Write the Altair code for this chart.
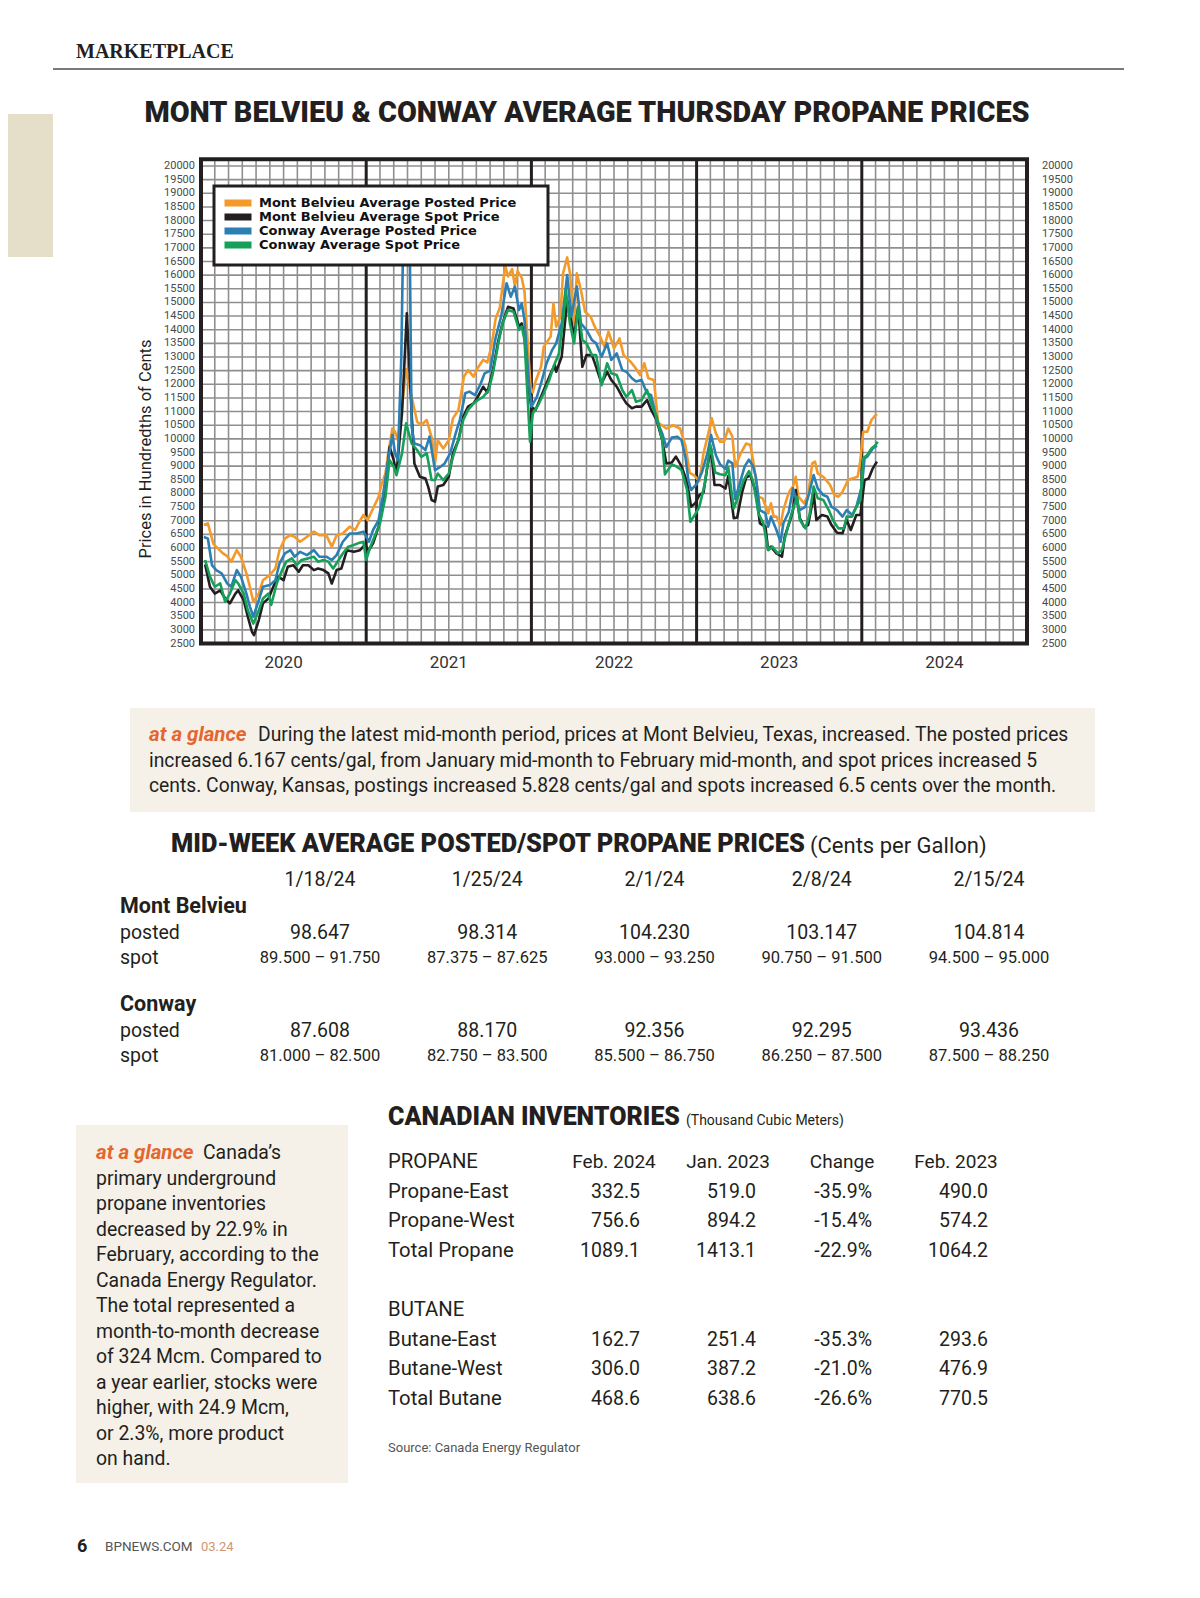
import altair as alt
import pandas as pd

# ---------------- line chart data: (months after 1 Jan 2020, price in hundredths of cents) ----------------
mb_posted = [(0.2, 6850), (0.5, 6900), (0.9, 6150), (1.3, 5950), (1.6, 5800), (1.9, 5700), (2.2, 5500), (2.6, 5920), (2.9, 5680), (3.3, 5070),
             (3.55, 4580), (3.8, 4030), (4.2, 4330), (4.5, 4820), (5.0, 5010), (5.4, 5250), (5.7, 5920), (6.1, 6350), (6.5, 6470), (6.8, 6410),
             (7.2, 6230), (7.7, 6410), (8.2, 6600), (8.6, 6470), (9.1, 6470), (9.5, 6050), (9.85, 6470), (10.3, 6530), (10.8, 6780), (11.2, 6660),
             (11.5, 6960), (11.8, 7210), (12.1, 7020), (12.5, 7450), (12.9, 7880), (13.1, 8300), (13.4, 8730), (13.6, 9470), (13.9, 10380), (14.1, 10260),
             (14.3, 9950), (14.6, 11180), (14.9, 12550), (15.3, 11540), (15.7, 10630), (16.0, 10510), (16.4, 10690), (16.8, 9960), (17.0, 9100), (17.2, 9950),
             (17.6, 9650), (18.0, 9950), (18.3, 10750), (18.7, 11060), (19.1, 12280), (19.4, 12520), (19.8, 12280), (20.1, 12600), (20.5, 12900), (20.8, 12800),
             (21.1, 13400), (21.4, 14400), (21.7, 14800), (22.1, 16350), (22.3, 15950), (22.6, 16220), (22.8, 15600), (23.0, 16150), (23.3, 15900), (23.5, 15400),
             (23.8, 13000), (23.95, 11800), (24.1, 11700), (24.3, 12100), (24.7, 12640), (24.9, 13380), (25.4, 13750), (25.6, 14970), (25.8, 14110), (26.1, 14480),
             (26.3, 16070), (26.6, 16650), (26.8, 16070), (27.1, 14230), (27.3, 16070), (27.6, 15450), (27.9, 14660), (28.3, 14480), (28.6, 14110), (29.0, 13750),
             (29.3, 13380), (29.6, 13930), (30.0, 13320), (30.4, 13680), (30.7, 13070), (31.2, 12830), (31.5, 12640), (31.9, 12340), (32.2, 12770), (32.5, 12220),
             (32.9, 12160), (33.2, 10600), (33.8, 10380), (34.3, 10500), (34.8, 10380), (35.2, 9720), (35.5, 8750), (35.8, 8670), (36.2, 8450), (36.5, 9470),
             (36.8, 10080), (37.1, 10750), (37.4, 10200), (37.7, 9900), (38.0, 9900), (38.3, 10380), (38.6, 10080), (38.8, 8980), (39.2, 9470), (39.6, 9830),
             (39.9, 9775), (40.1, 9225), (40.5, 7880), (40.8, 7820), (41.2, 7270), (41.4, 7640), (41.6, 7150), (41.8, 7150), (42.1, 6840), (42.3, 7390),
             (42.6, 7880), (42.8, 8125), (43.0, 8250), (43.2, 8610), (43.4, 7880), (43.8, 7640), (44.1, 7940), (44.4, 9100), (44.6, 9165), (44.8, 8735),
             (45.2, 8610), (45.5, 8430), (45.7, 8310), (46.0, 7940), (46.3, 7880), (46.6, 8060), (47.0, 8490), (47.3, 8550), (47.7, 8610), (47.9, 9225),
             (48.1, 10260), (48.4, 10260), (48.7, 10690), (48.9, 10810), (49.1, 10910)]

mb_spot = [(0.3, 5400), (0.65, 4580), (1.0, 4330), (1.4, 4450), (1.75, 4150), (2.1, 3970), (2.5, 4330), (2.7, 4450), (3.1, 4090), (3.4, 3480),
           (3.7, 2930), (3.85, 2810), (4.2, 3360), (4.5, 3970), (4.9, 4150), (5.25, 4580), (5.6, 4950), (6.0, 4820), (6.3, 5310), (6.7, 5370),
           (7.1, 5130), (7.4, 5370), (7.8, 5370), (8.2, 5190), (8.5, 5250), (8.9, 5190), (9.25, 5070), (9.5, 4700), (9.85, 5190), (10.2, 5250),
           (10.6, 5920), (11.1, 5860), (11.55, 5920), (11.9, 6110), (12.2, 5920), (12.5, 6170), (12.9, 6780), (13.2, 7630), (13.5, 8730), (13.7, 9710),
           (14.0, 9220), (14.2, 8730), (14.6, 10930), (14.95, 14600), (15.3, 10930), (15.5, 9100), (15.9, 8610), (16.3, 8550), (16.5, 8250), (16.75, 7760),
           (17.0, 7700), (17.2, 8250), (17.6, 8310), (18.0, 8610), (18.3, 9470), (18.7, 9960), (19.05, 10810), (19.4, 11180), (19.8, 11300), (20.1, 11540),
           (20.5, 11910), (20.8, 11700), (21.2, 12500), (21.6, 13600), (21.9, 14230), (22.3, 14840), (22.7, 14780), (23.1, 14110), (23.3, 14230), (23.5, 13750),
           (23.8, 11790), (24.0, 11180), (24.3, 11060), (24.6, 11420), (25.0, 11910), (25.4, 12400), (25.7, 12700), (25.8, 12460), (26.2, 13010), (26.6, 15090),
           (27.1, 13750), (27.4, 14840), (27.7, 12640), (28.0, 13070), (28.4, 13070), (28.7, 12640), (29.1, 12030), (29.5, 12460), (29.8, 12160), (30.2, 11910),
           (30.6, 11540), (30.9, 11300), (31.3, 11120), (31.6, 11180), (32.0, 11180), (32.4, 11420), (32.7, 11060), (33.1, 10690), (33.5, 9960), (33.8, 9100),
           (34.2, 9130), (34.5, 9350), (34.9, 9000), (35.3, 8430), (35.6, 7510), (35.9, 7640), (36.2, 7940), (36.5, 8030), (36.8, 9040), (37.05, 9650),
           (37.3, 8310), (37.7, 8310), (38.1, 8180), (38.3, 8640), (38.7, 7090), (38.95, 7120), (39.3, 8030), (39.6, 8580), (39.9, 8670), (40.3, 8060),
           (40.6, 6900), (41.0, 6780), (41.2, 5925), (41.4, 6050), (41.8, 5800), (42.2, 5680), (42.4, 6415), (42.8, 7025), (43.0, 7390), (43.2, 8125),
           (43.5, 7090), (43.8, 6780), (44.1, 6840), (44.4, 7640), (44.5, 8060), (44.7, 7025), (45.1, 7210), (45.5, 7150), (45.8, 6840), (46.2, 6560),
           (46.6, 6540), (46.9, 7025), (47.2, 6660), (47.6, 7210), (47.9, 7210), (48.2, 8490), (48.5, 8550), (48.8, 8920), (49.1, 9165)]

cw_posted = [(0.2, 6400), (0.5, 6350), (0.8, 5370), (1.1, 5190), (1.5, 5070), (1.9, 4700), (2.2, 4580), (2.6, 5190), (2.9, 4950), (3.3, 4330),
             (3.55, 3850), (3.8, 3480), (4.2, 4090), (4.5, 4580), (5.0, 4640), (5.4, 4820), (5.7, 5430), (6.1, 5800), (6.5, 5920), (6.8, 5680),
             (7.2, 5860), (7.7, 5740), (8.2, 5920), (8.6, 5680), (9.1, 5680), (9.5, 5560), (9.85, 5740), (10.3, 6230), (10.8, 6530), (11.3, 6530),
             (11.8, 6600), (12.2, 6230), (12.5, 6660), (12.9, 7020), (13.2, 7880), (13.6, 9220), (13.9, 10140), (14.1, 9470), (14.3, 9220), (14.55, 13000),
             (14.7, 17800), (15.15, 17800), (15.3, 10440), (15.5, 9830), (15.9, 9770), (16.3, 9590), (16.6, 10080), (17.0, 8850), (17.4, 8980), (17.7, 9100),
             (18.1, 9470), (18.5, 10200), (18.8, 10690), (19.2, 11670), (19.5, 11730), (19.9, 11600), (20.3, 12000), (20.6, 12400), (21.0, 12500), (21.4, 13700),
             (21.8, 14480), (22.2, 15700), (22.5, 15210), (22.8, 15580), (23.1, 14720), (23.3, 14970), (23.5, 14350), (23.8, 12160), (24.0, 11180), (24.4, 11540),
             (24.7, 12030), (25.1, 12770), (25.5, 13250), (25.8, 13500), (26.2, 14230), (26.6, 16000), (26.9, 14480), (27.3, 15580), (27.6, 14230), (28.0, 13990),
             (28.4, 13620), (28.7, 13500), (29.1, 13010), (29.5, 13500), (29.8, 12890), (30.2, 13130), (30.6, 12520), (30.9, 12460), (31.3, 12220), (31.6, 12100),
             (32.0, 12160), (32.4, 11670), (32.7, 11600), (33.1, 10690), (33.5, 10200), (33.8, 9700), (34.2, 10050), (34.6, 10080), (34.9, 9960), (35.2, 9300),
             (35.4, 8490), (35.6, 8125), (36.0, 8340), (36.4, 8790), (36.8, 9500), (37.05, 10140), (37.4, 9400), (37.7, 9070), (38.1, 8900), (38.3, 9200),
             (38.6, 9100), (38.8, 7800), (39.1, 8300), (39.5, 9000), (39.8, 9235), (40.1, 9000), (40.3, 8610), (40.6, 7390), (41.0, 7270), (41.2, 6780),
             (41.4, 7150), (41.8, 6660), (42.1, 6230), (42.3, 6900), (42.7, 7330), (43.0, 8185), (43.3, 7640), (43.5, 7390), (43.9, 7510), (44.2, 8060),
             (44.5, 8675), (44.8, 8185), (45.2, 7940), (45.5, 7880), (45.8, 7510), (46.2, 7390), (46.6, 7150), (46.9, 7390), (47.3, 7210), (47.6, 7510),
             (48.0, 8250), (48.2, 9285), (48.4, 9350), (48.8, 9650), (49.1, 9750)]

cw_spot = [(0.3, 5560), (0.65, 4950), (1.0, 4580), (1.4, 4700), (1.75, 4030), (2.1, 4330), (2.5, 4820), (2.7, 4700), (3.1, 4330), (3.4, 3720),
           (3.8, 3230), (4.2, 3720), (4.5, 4150), (4.9, 4330), (5.1, 3910), (5.5, 4700), (5.9, 5190), (6.2, 5500), (6.6, 5620), (6.95, 5370),
           (7.3, 5560), (7.8, 5620), (8.2, 5680), (8.5, 5500), (8.9, 5560), (9.25, 5500), (9.6, 5250), (10.0, 5560), (10.3, 5800), (10.7, 6050),
           (11.1, 6110), (11.4, 6170), (11.8, 6230), (12.0, 5560), (12.3, 6050), (12.6, 6410), (13.0, 6900), (13.4, 7880), (13.7, 9220), (14.0, 8980),
           (14.2, 8670), (14.6, 9470), (14.9, 10570), (15.3, 9830), (15.7, 9590), (16.0, 9340), (16.4, 9470), (16.75, 8490), (17.0, 8490), (17.2, 8730),
           (17.6, 8490), (18.0, 8730), (18.3, 9340), (18.7, 9960), (19.05, 10690), (19.4, 11060), (19.8, 11300), (20.1, 11420), (20.5, 11540), (20.9, 11790),
           (21.2, 12400), (21.6, 13500), (21.9, 14230), (22.3, 14720), (22.7, 14660), (23.1, 13990), (23.3, 14110), (23.5, 13620), (23.9, 9900), (24.1, 10930),
           (24.5, 11240), (24.9, 11670), (25.3, 12160), (25.6, 12640), (26.0, 13130), (26.3, 14350), (26.5, 15450), (26.8, 14230), (27.1, 13500), (27.4, 14840),
           (27.7, 13620), (28.0, 13500), (28.4, 13070), (28.7, 13070), (29.1, 11970), (29.5, 12770), (29.8, 12400), (30.2, 12340), (30.6, 11790), (30.9, 11540),
           (31.3, 11790), (31.6, 11360), (32.0, 11420), (32.4, 11790), (32.7, 11300), (33.1, 10810), (33.5, 9960), (33.7, 8700), (34.2, 9060), (34.5, 9000),
           (34.9, 8860), (35.3, 8150), (35.55, 6960), (35.9, 7240), (36.2, 7510), (36.6, 8370), (37.0, 9770), (37.35, 8770), (37.7, 8700), (38.1, 8670),
           (38.3, 8950), (38.7, 7450), (39.05, 7940), (39.4, 8460), (39.8, 8820), (40.1, 8460), (40.5, 7260), (40.85, 6900), (41.2, 5925), (41.5, 6050),
           (41.9, 5800), (42.2, 5925), (42.6, 6720), (42.9, 7270), (43.3, 7880), (43.5, 7025), (43.9, 6720), (44.2, 7210), (44.5, 8250), (44.8, 7820),
           (45.2, 7760), (45.6, 7390), (45.9, 7025), (46.3, 6720), (46.7, 6720), (46.9, 7150), (47.3, 7150), (47.6, 7510), (47.9, 7760), (48.1, 9285),
           (48.4, 9410), (48.7, 9650), (49.0, 9770), (49.15, 9900)]

series_names = ["Mont Belvieu Average Posted Price", "Mont Belvieu Average Spot Price",
                "Conway Average Posted Price", "Conway Average Spot Price"]
series_colors = ["#f39a2b", "#231f20", "#2b7fb3", "#16a05a"]

y_tick_values = list(range(2500, 20001, 500))
year_labels = ["2020", "2021", "2022", "2023", "2024"]
year_label_months = [6, 18, 30, 42, 54]
year_boundaries = [12, 24, 36, 48]
month_grid = [m for m in range(1, 60) if m % 12]

# ---------------- page text ----------------
section_label = "MARKETPLACE"
chart_title = "MONT BELVIEU & CONWAY AVERAGE THURSDAY PROPANE PRICES"
y_title = "Prices in Hundredths of Cents"
glance_tag = "at a glance"
glance1_first = "During the latest mid-month period, prices at Mont Belvieu, Texas, increased. The posted prices"
glance1_rest = ["increased 6.167 cents/gal, from January mid-month to February mid-month, and spot prices increased 5",
                "cents. Conway, Kansas, postings increased 5.828 cents/gal and spots increased 6.5 cents over the month."]

midweek_title = "MID-WEEK AVERAGE POSTED/SPOT PROPANE PRICES"
midweek_unit = "(Cents per Gallon)"
midweek_dates = ["1/18/24", "1/25/24", "2/1/24", "2/8/24", "2/15/24"]
mb_posted_week = ["98.647", "98.314", "104.230", "103.147", "104.814"]
mb_spot_week = ["89.500 – 91.750", "87.375 – 87.625", "93.000 – 93.250", "90.750 – 91.500", "94.500 – 95.000"]
cw_posted_week = ["87.608", "88.170", "92.356", "92.295", "93.436"]
cw_spot_week = ["81.000 – 82.500", "82.750 – 83.500", "85.500 – 86.750", "86.250 – 87.500", "87.500 – 88.250"]

inv_title = "CANADIAN INVENTORIES"
inv_unit = "(Thousand Cubic Meters)"
inv_cols = ["Feb. 2024", "Jan. 2023", "Change", "Feb. 2023"]
propane_rows = ["Propane-East", "Propane-West", "Total Propane"]
propane_vals = [["332.5", "519.0", "-35.9%", "490.0"],
                ["756.6", "894.2", "-15.4%", "574.2"],
                ["1089.1", "1413.1", "-22.9%", "1064.2"]]
butane_rows = ["Butane-East", "Butane-West", "Total Butane"]
butane_vals = [["162.7", "251.4", "-35.3%", "293.6"],
               ["306.0", "387.2", "-21.0%", "476.9"],
               ["468.6", "638.6", "-26.6%", "770.5"]]
inv_source = "Source: Canada Energy Regulator"

glance2_first = "Canada’s"
glance2_rest = ["primary underground", "propane inventories", "decreased by 22.9% in",
                "February, according to the", "Canada Energy Regulator.", "The total represented a",
                "month-to-month decrease", "of 324 Mcm. Compared to", "a year earlier, stocks were",
                "higher, with 24.9 Mcm,", "or 2.3%, more product", "on hand."]

footer_page = "6"
footer_site = "BPNEWS.COM"
footer_issue = "03.24"

# ---------------- styling / layout ----------------
W, H = 1184, 1582
OFF = 8
INK = "#231f20"
GRID = "#8f8f8f"
ORANGE = "#e4662f"
PANEL = "#f5f1e9"
BODY = "Roboto"
HEAD = "Roboto"
ONE = pd.DataFrame({"k": [0]})


def P(v):
    return v - OFF


def label(text, x, y, size, font=BODY, color=INK, weight="normal", style="normal",
          align="left", baseline="middle", angle=0):
    kw = dict(align=align, baseline=baseline, font=font, fontSize=size,
              fontWeight=weight, fontStyle=style, color=color)
    if angle:
        kw["angle"] = angle
    return alt.Chart(ONE).mark_text(**kw).encode(
        x=alt.value(P(x)), y=alt.value(P(y)), text=alt.value(text))


def text_block(lines, x, y0, step, size, font=BODY, color=INK):
    df = pd.DataFrame({"i": list(range(len(lines))), "t": lines})
    n = max(len(lines) - 1, 1)
    ys = alt.Scale(domain=[0, n], range=[P(y0), P(y0 + step * n)], nice=False, zero=False)
    return alt.Chart(df).mark_text(align="left", baseline="middle", font=font,
                                   fontSize=size, color=color).encode(
        x=alt.value(P(x)), y=alt.Y("i:Q", scale=ys, axis=None), text="t:N")


def box(x0, y0, x1, y1, fill, stroke=None, sw=0):
    kw = dict(fill=fill)
    if stroke:
        kw.update(stroke=stroke, strokeWidth=sw)
    return alt.Chart(ONE).mark_rect(**kw).encode(
        x=alt.value(P(x0)), x2=alt.value(P(x1)), y=alt.value(P(y0)), y2=alt.value(P(y1)))


layers = []

# header
layers.append(box(8, 114, 53, 257, "#e5dfca"))
layers.append(label(section_label, 76, 52, 20, font="Liberation Serif", weight="bold"))
layers.append(alt.Chart(ONE).mark_rule(color="#4d4d4d", strokeWidth=1.5).encode(
    x=alt.value(P(53)), x2=alt.value(P(1124)), y=alt.value(P(69))))
layers.append(label(chart_title, 587, 113, 28.8, font=HEAD, weight=900, align="center"))

# ---------------- line chart ----------------
XS = alt.Scale(domain=[0, 60], range=[P(201), P(1027)], nice=False, zero=False)
YS = alt.Scale(domain=[2500, 20000], range=[P(643.5), P(166)], nice=False, zero=False)

layers.append(alt.Chart(pd.DataFrame({"m": month_grid})).mark_rule(color=GRID, strokeWidth=1.6).encode(
    x=alt.X("m:Q", scale=XS, axis=None), y=alt.value(P(159)), y2=alt.value(P(645))))
layers.append(alt.Chart(pd.DataFrame({"v": y_tick_values[1:]})).mark_rule(color=GRID, strokeWidth=1.6).encode(
    y=alt.Y("v:Q", scale=YS, axis=None), x=alt.value(P(201)), x2=alt.value(P(1027))))
layers.append(alt.Chart(pd.DataFrame({"m": year_boundaries})).mark_rule(color=INK, strokeWidth=3).encode(
    x=alt.X("m:Q", scale=XS, axis=None), y=alt.value(P(159)), y2=alt.value(P(645))))
layers.append(alt.Chart(pd.DataFrame({"m0": [0], "m1": [60], "v0": [2500], "v1": [20250]})).mark_rect(
    fillOpacity=0, stroke=INK, strokeWidth=4).encode(
    x=alt.X("m0:Q", scale=XS, axis=None), x2="m1:Q",
    y=alt.Y("v0:Q", scale=YS, axis=None), y2="v1:Q"))

ticks_df = pd.DataFrame({"v": y_tick_values, "t": [str(v) for v in y_tick_values]})
layers.append(alt.Chart(ticks_df).mark_text(align="right", baseline="middle", font=BODY, fontSize=11,
                                            color="#4a4a4a").encode(
    y=alt.Y("v:Q", scale=YS, axis=None), x=alt.value(P(195)), text="t:N"))
layers.append(alt.Chart(ticks_df).mark_text(align="left", baseline="middle", font=BODY, fontSize=11,
                                            color="#4a4a4a").encode(
    y=alt.Y("v:Q", scale=YS, axis=None), x=alt.value(P(1042)), text="t:N"))
layers.append(alt.Chart(pd.DataFrame({"m": year_label_months, "t": year_labels})).mark_text(
    align="center", baseline="middle", font=BODY, fontSize=17, color="#333333").encode(
    x=alt.X("m:Q", scale=XS, axis=None), y=alt.value(P(663)), text="t:N"))
layers.append(label(y_title, 146, 449, 16.5, angle=270, align="center"))

rows = []
for name, pts in zip(series_names, [mb_posted, mb_spot, cw_posted, cw_spot]):
    for m, v in pts:
        rows.append({"s": name, "m": m, "v": v})
lines_df = pd.DataFrame(rows)
layers.append(alt.Chart(lines_df).mark_line(strokeWidth=2.6, strokeJoin="round").encode(
    x=alt.X("m:Q", scale=XS, axis=None),
    y=alt.Y("v:Q", scale=YS, axis=None),
    color=alt.Color("s:N", scale=alt.Scale(domain=series_names, range=series_colors),
                    legend=alt.Legend(orient="none", legendX=P(221), legendY=P(197), title=None,
                                      symbolType="stroke", symbolSize=729, symbolStrokeWidth=7,
                                      clipHeight=12,
                                      labelFont="DejaVu Sans", labelFontSize=13, labelFontWeight="bold",
                                      labelColor="#111111", labelOffset=4, rowPadding=1, padding=0,
                                      labelLimit=400)),
))
layers.append(box(214, 186, 548, 265, "white", INK, 3))

# ---------------- at a glance 1 ----------------
layers.append(box(130, 708, 1095, 812, PANEL))
layers.append(label(glance_tag, 149, 735, 20.5, weight="bold", style="italic", color=ORANGE))
layers.append(label(glance1_first, 258, 735, 19.3))
layers.append(text_block(glance1_rest, 149, 760.5, 25.5, 19.3))

# ---------------- mid-week table ----------------
layers.append(label(midweek_title, 171, 844, 25.4, font=HEAD, weight=900))
layers.append(label(midweek_unit, 810, 846, 22))
T1X = alt.Scale(domain=[0, 4], range=[P(320), P(989)], nice=False, zero=False)
T1Y = alt.Scale(domain=[0, 1, 3, 5, 7], range=[P(880), P(907), P(958), P(1005), P(1056)], nice=False, zero=False)
t1_cells = []
for c, d in enumerate(midweek_dates):
    t1_cells.append({"r": 0, "c": c, "t": d, "k": "big"})
for r, vals, kind in [(2, mb_posted_week, "big"), (3, mb_spot_week, "small"),
                      (6, cw_posted_week, "big"), (7, cw_spot_week, "small")]:
    for c, v in enumerate(vals):
        t1_cells.append({"r": r, "c": c, "t": v, "k": kind})
t1_df = pd.DataFrame(t1_cells)
for kind, size in [("big", 19.5), ("small", 16.5)]:
    layers.append(alt.Chart(t1_df).transform_filter(alt.datum.k == kind).mark_text(
        align="center", baseline="middle", font=BODY, fontSize=size, color=INK).encode(
        x=alt.X("c:Q", scale=T1X, axis=None), y=alt.Y("r:Q", scale=T1Y, axis=None), text="t:N"))
t1_labels = pd.DataFrame({"r": [1, 2, 3, 5, 6, 7],
                          "t": ["Mont Belvieu", "posted", "spot", "Conway", "posted", "spot"],
                          "b": [1, 0, 0, 1, 0, 0]})
for b, weight, size in [(1, "bold", 21.5), (0, "normal", 19.5)]:
    layers.append(alt.Chart(t1_labels).transform_filter(alt.datum.b == b).mark_text(
        align="left", baseline="middle", font=BODY, fontSize=size, fontWeight=weight, color=INK).encode(
        x=alt.value(P(120)), y=alt.Y("r:Q", scale=T1Y, axis=None), text="t:N"))

# ---------------- at a glance 2 ----------------
layers.append(box(76, 1125, 348, 1483, PANEL))
layers.append(label(glance_tag, 96, 1153, 20.5, weight="bold", style="italic", color=ORANGE))
layers.append(label(glance2_first, 203, 1153, 19.4))
layers.append(text_block(glance2_rest, 96, 1178.5, 25.5, 19.4))

# ---------------- Canadian inventories ----------------
layers.append(label(inv_title, 388, 1117, 25, font=HEAD, weight=900))
layers.append(label(inv_unit, 686, 1121, 14))
T2Y = alt.Scale(domain=[0, 8], range=[P(1162), P(1399)], nice=False, zero=False)
T2H = alt.Scale(domain=[0, 3], range=[P(614), P(956)], nice=False, zero=False)
T2V = alt.Scale(domain=[0, 3], range=[P(640), P(988)], nice=False, zero=False)
layers.append(alt.Chart(pd.DataFrame({"c": list(range(4)), "t": inv_cols})).mark_text(
    align="center", baseline="middle", font=BODY, fontSize=19, color=INK).encode(
    x=alt.X("c:Q", scale=T2H, axis=None), y=alt.value(P(1162)), text="t:N"))
t2_cells = []
for r0, vals in [(1, propane_vals), (6, butane_vals)]:
    for i, row in enumerate(vals):
        for c, v in enumerate(row):
            t2_cells.append({"r": r0 + i, "c": c, "t": v})
layers.append(alt.Chart(pd.DataFrame(t2_cells)).mark_text(
    align="right", baseline="middle", font=BODY, fontSize=19.5, color=INK).encode(
    x=alt.X("c:Q", scale=T2V, axis=None), y=alt.Y("r:Q", scale=T2Y, axis=None), text="t:N"))
t2_labels = pd.DataFrame({"r": [0, 1, 2, 3, 5, 6, 7, 8],
                          "t": ["PROPANE"] + propane_rows + ["BUTANE"] + butane_rows})
layers.append(alt.Chart(t2_labels).mark_text(
    align="left", baseline="middle", font=BODY, fontSize=20.3, color=INK).encode(
    x=alt.value(P(388)), y=alt.Y("r:Q", scale=T2Y, axis=None), text="t:N"))
layers.append(label(inv_source, 388, 1448, 13, color="#555555"))

# ---------------- footer ----------------
layers.append(label(footer_page, 77, 1547, 18, weight="bold"))
layers.append(label(footer_site, 105, 1547, 13.5, color="#555555"))
layers.append(label(footer_issue, 201, 1547, 13, color="#d09574"))

chart = alt.layer(*layers).properties(
    width=W, height=H, padding=0, background="white",
    autosize=alt.AutoSizeParams(type="none"),
).resolve_scale(x="independent", y="independent").configure_view(stroke=None)

chart.save("out.html", embed_options={"renderer": "svg", "actions": False})
